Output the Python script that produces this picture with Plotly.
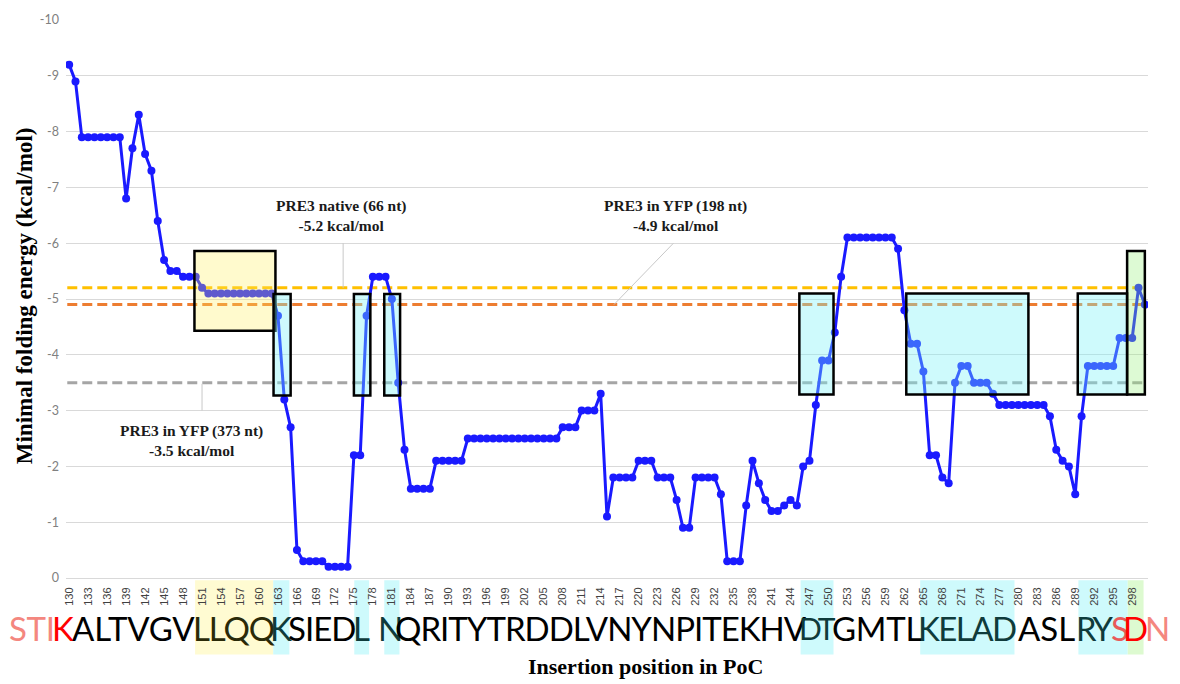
import plotly.graph_objects as go

# ---------------- data ----------------
positions = list(range(130, 301))
energy = [
    -9.2, -8.9, -7.9, -7.9, -7.9, -7.9, -7.9, -7.9, -7.9, -6.8,   # 130-139
    -7.7, -8.3, -7.6, -7.3, -6.4, -5.7, -5.5, -5.5, -5.4, -5.4,   # 140-149
    -5.4, -5.2, -5.1, -5.1, -5.1, -5.1, -5.1, -5.1, -5.1, -5.1,   # 150-159
    -5.1, -5.1, -5.1, -4.7, -3.2, -2.7, -0.5, -0.3, -0.3, -0.3,   # 160-169
    -0.3, -0.2, -0.2, -0.2, -0.2, -2.2, -2.2, -4.7, -5.4, -5.4,   # 170-179
    -5.4, -5.0, -3.5, -2.3, -1.6, -1.6, -1.6, -1.6, -2.1, -2.1,   # 180-189
    -2.1, -2.1, -2.1, -2.5, -2.5, -2.5, -2.5, -2.5, -2.5, -2.5,   # 190-199
    -2.5, -2.5, -2.5, -2.5, -2.5, -2.5, -2.5, -2.5, -2.7, -2.7,   # 200-209
    -2.7, -3.0, -3.0, -3.0, -3.3, -1.1, -1.8, -1.8, -1.8, -1.8,   # 210-219
    -2.1, -2.1, -2.1, -1.8, -1.8, -1.8, -1.4, -0.9, -0.9, -1.8,   # 220-229
    -1.8, -1.8, -1.8, -1.5, -0.3, -0.3, -0.3, -1.3, -2.1, -1.7,   # 230-239
    -1.4, -1.2, -1.2, -1.3, -1.4, -1.3, -2.0, -2.1, -3.1, -3.9,   # 240-249
    -3.9, -4.4, -5.4, -6.1, -6.1, -6.1, -6.1, -6.1, -6.1, -6.1,   # 250-259
    -6.1, -5.9, -4.8, -4.2, -4.2, -3.7, -2.2, -2.2, -1.8, -1.7,   # 260-269
    -3.5, -3.8, -3.8, -3.5, -3.5, -3.5, -3.3, -3.1, -3.1, -3.1,   # 270-279
    -3.1, -3.1, -3.1, -3.1, -3.1, -2.9, -2.3, -2.1, -2.0, -1.5,   # 280-289
    -2.9, -3.8, -3.8, -3.8, -3.8, -3.8, -4.3, -4.3, -4.3, -5.2,   # 290-299
    -4.9,                                                         # 300
]
tick_positions = list(range(130, 299, 3))
tick_labels = [str(p) for p in tick_positions]
y_ticks = list(range(-10, 1))
y_tick_labels = [str(v) for v in y_ticks]

# reference energies
ref_names = ["PRE3 native (66 nt)", "PRE3 in YFP (198 nt)", "PRE3 in YFP (373 nt)"]
ref_values = [-5.2, -4.9, -3.5]
ref_colors = ["#FFC000", "#ED7D31", "#A5A5A5"]

# highlighted regions (insertion positions / energy span)
box_start = [149.8, 162.3, 175.0, 179.8, 245.4, 262.3, 289.4, 297.2]
box_end   = [162.6, 165.0, 177.6, 182.3, 250.8, 281.6, 297.2, 300.0]
box_top   = [-5.86, -5.09, -5.09, -5.09, -5.1, -5.1, -5.1, -5.86]
box_bot   = [-4.43, -3.27, -3.27, -3.27, -3.29, -3.29, -3.29, -3.29]
box_kind  = ["y", "c", "c", "c", "c", "c", "c", "g"]

band_start = [149.9, 162.25, 175.06, 179.8, 245.6, 264.5, 289.5, 297.3]
band_end   = [162.25, 164.8, 177.4, 182.2, 250.8, 279.4, 297.3, 299.8]
band_kind  = ["y", "c", "c", "c", "c", "c", "c", "g"]

# protein sequence chunks: (text, first position, last position, style)
seq_chunks = [
    ("STI", 120.6, 127.6, "pink"), ("K", 127.6, 130.5, "red"),
    ("ALTVGV", 130.5, 149.9, "n"), ("LLQQ", 149.9, 162.25, "dy"),
    ("K", 162.25, 164.8, "dc"), ("SIED", 164.8, 175.06, "n"),
    ("L", 175.06, 177.4, "dc"), ("N", 179.6, 182.0, "dc"),
    ("QRITYTRDDLVNYNPITEKHV", 182.4, 245.6, "n"), ("DT", 245.6, 250.8, "dc"),
    ("GMTL", 250.8, 264.5, "n"), ("KELAD", 264.5, 279.4, "dc"),
    ("ASL", 279.4, 289.5, "n"), ("RY", 289.5, 294.9, "dc"),
    ("S", 294.9, 297.3, "pink2"), ("D", 297.3, 299.8, "red"),
    ("N", 299.8, 304.2, "pink"),
]

# ---------------- figure ----------------
X_RANGE = [129.5, 300.5]
PX_PER_POS = 6.325
SEQ_SIZE = 33
fill = {"y": "rgba(255,238,90,0.30)", "c": "rgba(120,240,246,0.36)", "g": "rgba(150,240,120,0.32)"}
band_fill = {"y": "#FFFBD2", "c": "#CEFAFC", "g": "#DDFAD0"}
txt_col = {"n": "#000000", "dy": "#2a2a08", "dc": "#0f3b3b", "pink": "#F4877F",
           "pink2": "#E85A5A", "red": "#FF0000"}
# approximate advance widths (em) of the sequence font, used to squeeze chunks into their slot
adv = {"A": .68, "C": .665, "D": .75, "E": .575, "G": .72, "H": .76, "I": .29, "K": .665,
       "L": .515, "M": .92, "N": .76, "P": .61, "Q": .775, "R": .63, "S": .535, "T": .585,
       "V": .68, "Y": .635}
EM_FACTOR = 0.97


def to_paper(p):
    return (p - X_RANGE[0]) / (X_RANGE[1] - X_RANGE[0])


fig = go.Figure()

for v, c in zip(ref_values, ref_colors):
    fig.add_trace(go.Scatter(x=[129.7, 299.9], y=[v, v], mode="lines",
                             line=dict(color=c, width=3, dash="10px,5px"),
                             hoverinfo="skip", showlegend=False))

fig.add_trace(go.Scatter(x=positions, y=energy, mode="lines+markers",
                         line=dict(color="#1a1aff", width=3),
                         marker=dict(color="#1a1aff", size=8),
                         showlegend=False))

shapes = []
for x0, x1, k in zip(band_start, band_end, band_kind):
    shapes.append(dict(type="rect", xref="x", yref="paper", x0=x0, x1=x1,
                       y0=-0.137, y1=-0.004, fillcolor=band_fill[k],
                       line=dict(width=0), layer="below"))
for x0, x1, t, b, k in zip(box_start, box_end, box_top, box_bot, box_kind):
    shapes.append(dict(type="rect", xref="x", yref="y", x0=x0, x1=x1, y0=t, y1=b,
                       fillcolor=fill[k], line=dict(color="black", width=2.5),
                       layer="above"))
# leader lines of the reference labels
leaders = [(173.3, -6.0, 173.3, -5.2), (225.5, -6.0, 216.1, -4.9), (151.0, -3.48, 151.0, -3.0)]
for x0, y0, x1, y1 in leaders:
    shapes.append(dict(type="line", xref="x", yref="y", x0=x0, y0=y0, x1=x1, y1=y1,
                       line=dict(color="#C8C8C8", width=1)))

annotations = []
label_pos = [(172.9, -6.49), (225.9, -6.49), (149.4, -2.47)]
for name, v, (lx, ly) in zip(ref_names, ref_values, label_pos):
    annotations.append(dict(x=lx, y=ly, xref="x", yref="y", showarrow=False,
                            xanchor="center", yanchor="middle",
                            text=f"<b>{name}<br>{v} kcal/mol</b>",
                            font=dict(family="Liberation Serif", size=15.5, color="#1a1a1a")))

for text, p0, p1, st in seq_chunks:
    slot = (p1 - p0) * PX_PER_POS
    em = sum(adv[c] for c in text) * EM_FACTOR
    size = SEQ_SIZE
    if len(text) > 1:
        size = min(SEQ_SIZE, (slot + 3 * len(text)) / em)
        ls = min(0.0, (slot - em * size) / len(text))
        label = f'<span style="letter-spacing:{ls:.2f}px">{text}</span>'
    else:
        label = text
    annotations.append(dict(x=to_paper((p0 + p1) / 2), y=-0.0905, xref="paper", yref="paper",
                            showarrow=False, xanchor="center", yanchor="middle", text=label,
                            font=dict(family="Lato", size=size, color=txt_col[st])))

annotations.append(dict(x=0.536, y=-0.158, xref="paper", yref="paper", showarrow=False,
                        xanchor="center", yanchor="middle",
                        text="<b>Insertion position in PoC</b>",
                        font=dict(family="Liberation Serif", size=22, color="#000000")))
annotations.append(dict(x=-0.0388, y=0.505, xref="paper", yref="paper", showarrow=False,
                        xanchor="center", yanchor="middle",
                        textangle=-90, text="<b>Minimal folding energy (kcal/mol)</b>",
                        font=dict(family="Liberation Serif", size=23, color="#000000")))

fig.update_layout(
    width=1180, height=684,
    margin=dict(l=66, r=32, t=16, b=106),
    paper_bgcolor="white", plot_bgcolor="white",
    shapes=shapes, annotations=annotations,
    xaxis=dict(range=X_RANGE, tickmode="array", tickvals=tick_positions, ticktext=tick_labels,
               tickangle=-90, showgrid=False, zeroline=False, showline=True,
               linecolor="#D9D9D9", linewidth=1, ticks="",
               tickfont=dict(family="Liberation Sans", size=11, color="#404040"),
               ticklabelstandoff=4),
    yaxis=dict(range=[0, -10], tickmode="array", tickvals=y_ticks, ticktext=y_tick_labels,
               showgrid=True, gridcolor="#D9D9D9", gridwidth=1, zeroline=False, ticks="",
               tickfont=dict(family="Lato", size=12.5, color="#808080"),
               ticklabelstandoff=6),
)

fig.write_html("out.html")
